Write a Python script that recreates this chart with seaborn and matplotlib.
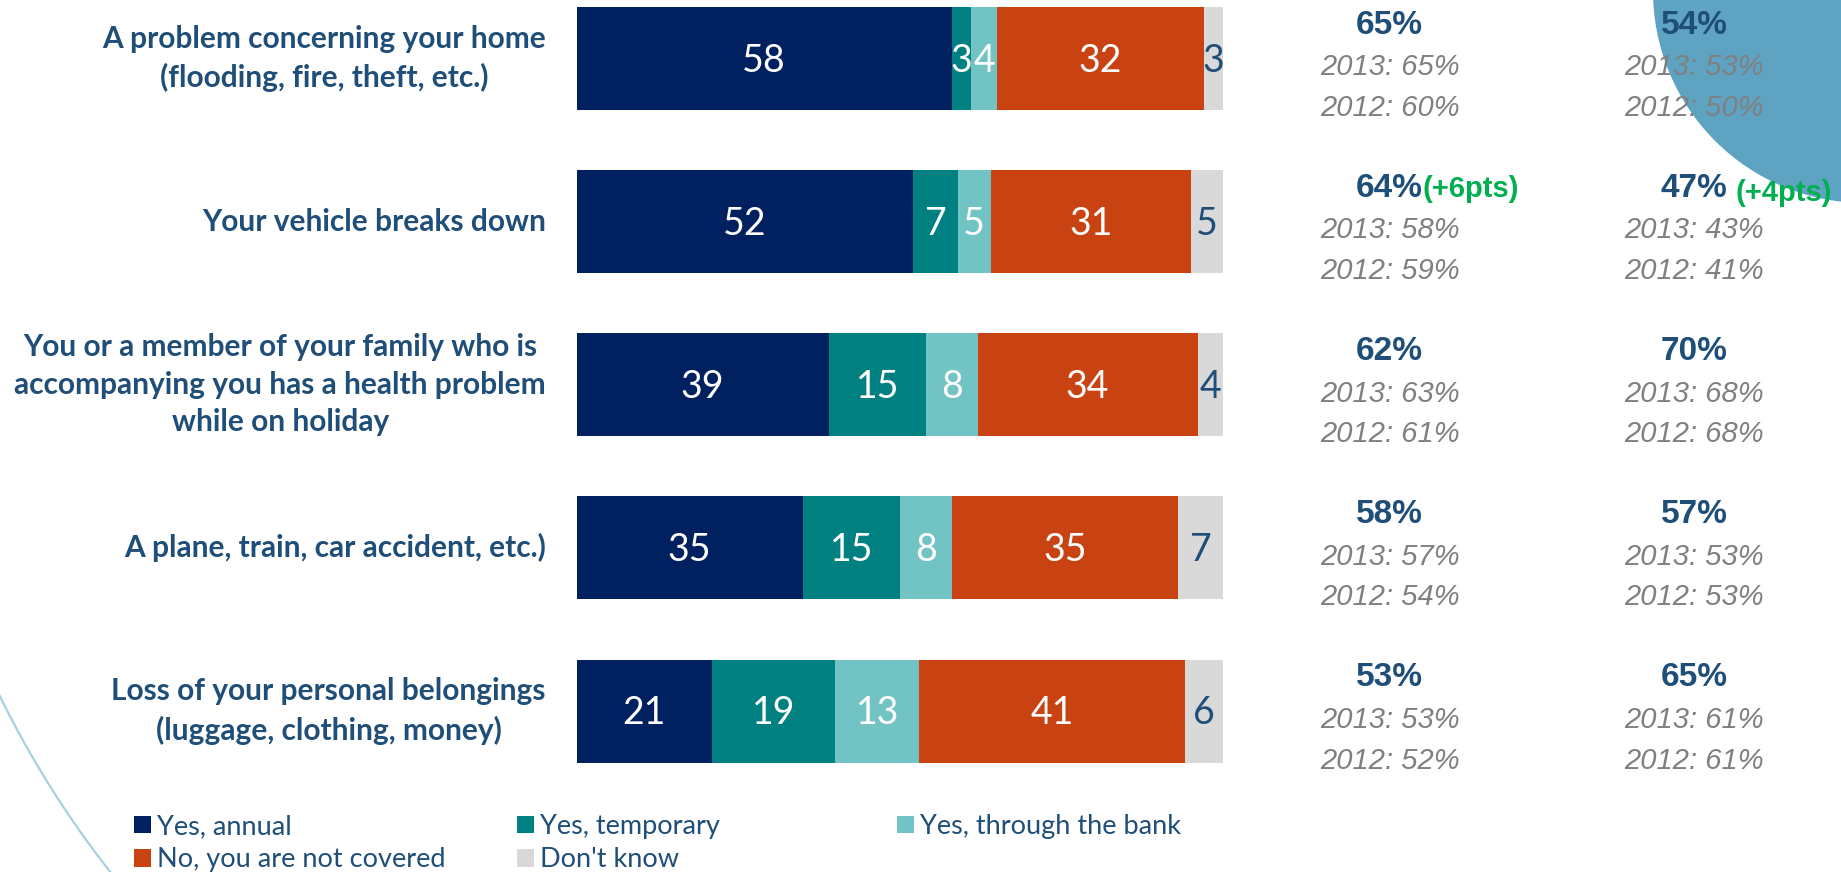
import numpy as np
import pandas as pd
import matplotlib
matplotlib.use("Agg")
import matplotlib.pyplot as plt
import matplotlib.transforms as mtransforms
from matplotlib.patches import Circle, Patch
import seaborn as sns

# ---- data -------------------------------------------------------------
categories = [
    "A problem concerning your home\n(flooding, fire, theft, etc.)",
    "Your vehicle breaks down",
    "You or a member of your family who is\naccompanying you has a health problem\nwhile on holiday",
    "A plane, train, car accident, etc.)",
    "Loss of your personal belongings\n(luggage, clothing, money)",
]
series_names = ["Yes, annual", "Yes, temporary", "Yes, through the bank",
                "No, you are not covered", "Don't know"]
yes_annual = [58, 52, 39, 35, 21]
yes_temporary = [3, 7, 15, 15, 19]
yes_bank = [4, 5, 8, 8, 13]
not_covered = [32, 31, 34, 35, 41]
dont_know = [3, 5, 4, 7, 6]

# yearly comparison columns
col_a_2014 = [65, 64, 62, 58, 53]
col_a_2013 = [65, 58, 63, 57, 53]
col_a_2012 = [60, 59, 61, 54, 52]
col_b_2014 = [54, 47, 70, 57, 65]
col_b_2013 = [53, 43, 68, 53, 61]
col_b_2012 = [50, 41, 68, 53, 61]
# rows where the change versus 2013 is highlighted
highlight_a = [False, True, False, False, False]
highlight_b = [False, True, False, False, False]

# ---- style ------------------------------------------------------------
colors = ["#002060", "#008080", "#72C4C4", "#C84311", "#D9D9D9"]
label_colors = ["white", "white", "white", "white", "#1F4E79"]
navy_text = "#1F4E79"
grey_text = "#808080"
green = "#00B050"

sns.set_theme(style="white")
plt.rcParams["font.family"] = ["Lato", "DejaVu Sans"]

W, H = 1841, 872
fig = plt.figure(figsize=(W / 100, H / 100), dpi=100)

# background layer in pixel units for decorative shapes
bg = fig.add_axes([0, 0, 1, 1], zorder=0)
bg.set_xlim(0, W)
bg.set_ylim(H, 0)
bg.axis("off")
bg.add_patch(Circle((1865, -9), 212, facecolor="#5FA3C3", edgecolor="none"))
t = np.radians(np.linspace(136, 160, 200))
bg.plot(888 + 989 * np.cos(t), 261 + 989 * np.sin(t), color="#A9D0E0", lw=1.6)

# bar panel
bar_left, bar_right = 576.5, 1223.4
bar_top, bar_bottom = 7.0, 762.5
ax = fig.add_axes([bar_left / W, 1 - bar_bottom / H,
                   (bar_right - bar_left) / W, (bar_bottom - bar_top) / H], zorder=2)
ax.patch.set_alpha(0)

values = np.array([yes_annual, yes_temporary, yes_bank, not_covered, dont_know])
cum = values.cumsum(axis=0)
bar_w = 0.631

# stacked bars: draw the cumulative totals from longest to shortest
for j in range(len(series_names) - 1, -1, -1):
    df = pd.DataFrame({"category": categories, "value": cum[j]})
    sns.barplot(data=df, x="value", y="category", orient="h", color=colors[j],
                saturation=1, width=bar_w, errorbar=None, linewidth=0, ax=ax)

ax.set_xlim(0, 100)
ax.set_ylim(len(categories) - 1 + bar_w / 2, -bar_w / 2)
ax.set_xlabel("")
ax.set_ylabel("")
ax.set_xticks([])
for s in ax.spines.values():
    s.set_visible(False)
ax.tick_params(axis="y", length=0, pad=22)
for lbl in ax.get_yticklabels():
    lbl.set_multialignment("center")
    lbl.set_verticalalignment("center")
    lbl.set_fontsize(21.5)
    lbl.set_fontweight("bold")
    lbl.set_color(navy_text)
    lbl.set_linespacing(1.42)

# segment values
for j in range(len(series_names)):
    for i in range(len(categories)):
        v = values[j, i]
        ax.text(cum[j, i] - v / 2, i + 0.082, f"{v}", ha="center", va="baseline",
                fontsize=27, color=label_colors[j])

# yearly comparison text
tr = mtransforms.blended_transform_factory(bg.transData, ax.transData)
arial = ["Liberation Sans", "DejaVu Sans"]


def year_column(xc, now, y13, y12, highlight, green_gap, green_drop):
    for i in range(len(categories)):
        ax.text(xc, i - 0.152, f"{now[i]}%", transform=tr, ha="center",
                va="baseline", fontsize=24, fontweight="bold",
                color=navy_text, family=arial)
        ax.text(xc, i + 0.103, f"2013: {y13[i]}%", transform=tr, ha="center",
                va="baseline", fontsize=21, style="italic", color=grey_text,
                family=arial)
        ax.text(xc, i + 0.353, f"2012: {y12[i]}%", transform=tr, ha="center",
                va="baseline", fontsize=21, style="italic", color=grey_text,
                family=arial)
        if highlight[i]:
            diff = now[i] - y13[i]
            ax.text(xc + 33 + green_gap, i - 0.152 + green_drop, f"({diff:+d}pts)",
                    transform=tr, ha="left", va="baseline", fontsize=21,
                    fontweight="bold", color=green, family=arial)


year_column(1389.5, col_a_2014, col_a_2013, col_a_2012, highlight_a, 0, 0.0)
year_column(1694.0, col_b_2014, col_b_2013, col_b_2012, highlight_b, 9, 0.025)

# legend laid out in three columns
handles = [Patch(facecolor=c, edgecolor="none") for c in colors]
legend_cols = [[0, 3], [1, 4], [2]]
col_x = [134, 517, 897]
for idx, x in zip(legend_cols, col_x):
    fig.legend([handles[k] for k in idx], [series_names[k] for k in idx],
               loc="upper left", bbox_to_anchor=(x / W, 1 - 814 / H),
               frameon=False, fontsize=19.5, handlelength=0.64,
               handleheight=0.64, handletextpad=0.22, labelspacing=0.3,
               borderpad=0, borderaxespad=0, labelcolor=navy_text)

fig.savefig("out.png", dpi=100)
